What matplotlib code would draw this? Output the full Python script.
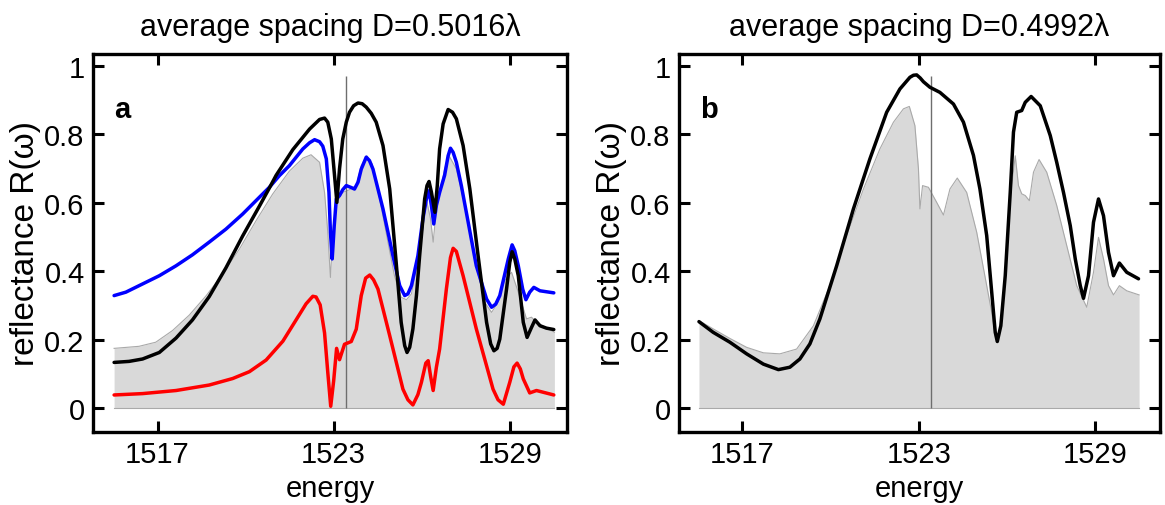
import matplotlib
matplotlib.use("Agg")
import matplotlib.pyplot as plt

plt.rcParams["font.family"] = ["Liberation Sans", "DejaVu Sans"]

# -------------------------
# Data
# -------------------------

# panel a: grey filled reference curve
a_grey_e = [1515.52, 1516.37, 1516.94, 1517.51, 1518.08, 1518.65, 1519.22, 1519.79,
            1520.36, 1520.92, 1521.49, 1521.95, 1522.23, 1522.52, 1522.69, 1522.80,
            1522.89, 1522.99, 1523.11, 1523.31, 1523.54, 1523.77, 1523.94, 1524.13,
            1524.31, 1524.57, 1524.85, 1525.07, 1525.30, 1525.48, 1525.65, 1525.82,
            1525.99, 1526.18, 1526.30, 1526.39, 1526.50, 1526.67, 1526.78, 1526.93,
            1527.18, 1527.52, 1527.86, 1528.15, 1528.38, 1528.60, 1528.83, 1529.06,
            1529.29, 1529.57, 1529.74, 1529.91, 1530.52]
a_grey_r = [0.175, 0.181, 0.193, 0.227, 0.272, 0.328, 0.392, 0.465,
            0.548, 0.625, 0.692, 0.730, 0.740, 0.718, 0.630, 0.514,
            0.382, 0.533, 0.601, 0.630, 0.638, 0.650, 0.708, 0.737,
            0.713, 0.611, 0.485, 0.387, 0.324, 0.317, 0.334, 0.407,
            0.533, 0.601, 0.553, 0.485, 0.582, 0.650, 0.699, 0.737,
            0.699, 0.572, 0.416, 0.309, 0.280, 0.309, 0.373, 0.397,
            0.339, 0.261, 0.266, 0.251, 0.222]

# panel a: black curve
a_black_e = [1515.52, 1516.03, 1516.49, 1517.06, 1517.63, 1518.19, 1518.76, 1519.33,
             1519.90, 1520.47, 1520.81, 1521.04, 1521.61, 1522.18, 1522.52, 1522.69,
             1522.80, 1522.92, 1523.01, 1523.11, 1523.20, 1523.31, 1523.43, 1523.54,
             1523.68, 1523.83, 1523.97, 1524.11, 1524.28, 1524.45, 1524.68, 1524.91,
             1525.13, 1525.30, 1525.42, 1525.50, 1525.59, 1525.70, 1525.82, 1525.93,
             1526.10, 1526.18, 1526.25, 1526.33, 1526.45, 1526.53, 1526.61, 1526.73,
             1526.90, 1527.05, 1527.18, 1527.41, 1527.64, 1527.92, 1528.21, 1528.35,
             1528.46, 1528.57, 1528.66, 1528.89, 1529.00, 1529.08, 1529.17, 1529.29,
             1529.46, 1529.59, 1529.74, 1529.86, 1530.03, 1530.25, 1530.50]
a_black_r = [0.134, 0.137, 0.144, 0.163, 0.205, 0.258, 0.326, 0.410,
             0.503, 0.590, 0.643, 0.680, 0.755, 0.815, 0.843, 0.847,
             0.835, 0.786, 0.699, 0.601, 0.699, 0.786, 0.835, 0.864,
             0.883, 0.891, 0.889, 0.879, 0.861, 0.835, 0.767, 0.640,
             0.426, 0.251, 0.183, 0.163, 0.178, 0.232, 0.329, 0.446,
             0.611, 0.650, 0.662, 0.631, 0.572, 0.650, 0.757, 0.830,
             0.872, 0.864, 0.845, 0.767, 0.640, 0.446, 0.251, 0.188,
             0.168, 0.175, 0.202, 0.348, 0.426, 0.457, 0.436, 0.387,
             0.251, 0.207, 0.236, 0.258, 0.241, 0.234, 0.230]

# panel a: blue curve
a_blue_e = [1515.52, 1515.92, 1516.49, 1517.06, 1517.63, 1518.19, 1518.76, 1519.33,
            1519.90, 1520.47, 1520.81, 1521.15, 1521.49, 1521.95, 1522.18, 1522.35,
            1522.52, 1522.63, 1522.75, 1522.84, 1522.89, 1522.95, 1523.02, 1523.09,
            1523.20, 1523.31, 1523.43, 1523.58, 1523.71, 1523.83, 1523.94, 1524.11,
            1524.22, 1524.34, 1524.51, 1524.68, 1524.85, 1525.02, 1525.25, 1525.42,
            1525.53, 1525.65, 1525.87, 1526.04, 1526.16, 1526.25, 1526.33, 1526.41,
            1526.50, 1526.61, 1526.78, 1526.90, 1526.98, 1527.07, 1527.18, 1527.35,
            1527.52, 1527.86, 1528.21, 1528.38, 1528.52, 1528.66, 1528.95, 1529.08,
            1529.17, 1529.29, 1529.44, 1529.55, 1529.68, 1529.82, 1530.03, 1530.50]
a_blue_r = [0.329, 0.339, 0.363, 0.387, 0.416, 0.448, 0.485, 0.523,
            0.567, 0.616, 0.645, 0.679, 0.708, 0.757, 0.775, 0.784,
            0.778, 0.765, 0.728, 0.630, 0.514, 0.436, 0.533, 0.611,
            0.621, 0.638, 0.650, 0.645, 0.640, 0.660, 0.698, 0.733,
            0.723, 0.698, 0.640, 0.582, 0.514, 0.445, 0.358, 0.329,
            0.334, 0.358, 0.445, 0.553, 0.611, 0.635, 0.592, 0.538,
            0.592, 0.630, 0.680, 0.737, 0.759, 0.747, 0.718, 0.650,
            0.572, 0.416, 0.319, 0.295, 0.304, 0.329, 0.436, 0.477,
            0.460, 0.416, 0.348, 0.317, 0.339, 0.353, 0.343, 0.337]

# panel a: red curve
a_red_e = [1515.52, 1516.49, 1517.63, 1518.76, 1519.56, 1520.13, 1520.70, 1521.27,
           1521.72, 1522.06, 1522.29, 1522.40, 1522.54, 1522.69, 1522.80, 1522.90,
           1523.00, 1523.10, 1523.20, 1523.37, 1523.60, 1523.77, 1523.94, 1524.09,
           1524.23, 1524.36, 1524.51, 1524.91, 1525.36, 1525.53, 1525.70, 1525.87,
           1525.99, 1526.14, 1526.22, 1526.30, 1526.39, 1526.50, 1526.61, 1526.84,
           1526.98, 1527.07, 1527.18, 1527.41, 1527.86, 1528.43, 1528.60, 1528.78,
           1529.00, 1529.14, 1529.25, 1529.36, 1529.46, 1529.68, 1529.91, 1530.50]
a_red_r = [0.039, 0.043, 0.052, 0.068, 0.087, 0.107, 0.141, 0.196,
           0.258, 0.305, 0.327, 0.325, 0.302, 0.220, 0.105, 0.006,
           0.080, 0.175, 0.142, 0.187, 0.195, 0.231, 0.329, 0.380,
           0.389, 0.375, 0.348, 0.212, 0.056, 0.025, 0.010, 0.040,
           0.076, 0.132, 0.139, 0.095, 0.052, 0.120, 0.173, 0.348,
           0.440, 0.467, 0.458, 0.387, 0.232, 0.056, 0.025, 0.012,
           0.076, 0.121, 0.132, 0.115, 0.086, 0.045, 0.052, 0.039]

# panel b: grey filled reference curve
b_grey_e = [1515.53, 1516.01, 1516.58, 1517.15, 1517.72, 1518.28, 1518.85, 1519.42,
            1519.98, 1520.55, 1521.12, 1521.68, 1522.14, 1522.48, 1522.68, 1522.87,
            1522.99, 1523.04, 1523.13, 1523.33, 1523.61, 1523.84, 1524.06, 1524.31,
            1524.63, 1524.97, 1525.31, 1525.48, 1525.60, 1525.67, 1525.79, 1525.94,
            1526.11, 1526.28, 1526.39, 1526.50, 1526.62, 1526.76, 1526.90, 1527.09,
            1527.35, 1527.69, 1528.03, 1528.37, 1528.71, 1528.94, 1529.11, 1529.28,
            1529.45, 1529.62, 1529.82, 1530.07, 1530.49]
b_grey_r = [0.256, 0.232, 0.204, 0.178, 0.162, 0.159, 0.173, 0.241,
            0.358, 0.504, 0.640, 0.757, 0.835, 0.874, 0.881, 0.825,
            0.699, 0.582, 0.650, 0.645, 0.601, 0.564, 0.640, 0.672,
            0.630, 0.514, 0.358, 0.280, 0.212, 0.193, 0.241, 0.377,
            0.611, 0.737, 0.650, 0.626, 0.621, 0.606, 0.689, 0.726,
            0.689, 0.592, 0.475, 0.358, 0.295, 0.397, 0.499, 0.436,
            0.358, 0.331, 0.358, 0.343, 0.331]

# panel b: black curve
b_black_e = [1515.53, 1516.01, 1516.58, 1517.15, 1517.72, 1518.23, 1518.62, 1518.96,
             1519.30, 1519.64, 1520.21, 1520.78, 1521.34, 1521.91, 1522.36, 1522.70,
             1522.82, 1522.93, 1523.05, 1523.16, 1523.38, 1523.72, 1524.18, 1524.52,
             1524.86, 1525.08, 1525.31, 1525.48, 1525.60, 1525.67, 1525.79, 1525.94,
             1526.11, 1526.22, 1526.33, 1526.50, 1526.62, 1526.82, 1527.13, 1527.47,
             1527.69, 1527.92, 1528.15, 1528.32, 1528.49, 1528.60, 1528.77, 1528.94,
             1529.11, 1529.28, 1529.45, 1529.62, 1529.82, 1530.07, 1530.47]
b_black_r = [0.253, 0.222, 0.193, 0.159, 0.129, 0.113, 0.120, 0.144,
             0.188, 0.261, 0.416, 0.582, 0.728, 0.864, 0.932, 0.966,
             0.972, 0.973, 0.964, 0.953, 0.937, 0.922, 0.888, 0.835,
             0.738, 0.640, 0.504, 0.339, 0.222, 0.195, 0.241, 0.387,
             0.630, 0.806, 0.864, 0.869, 0.893, 0.910, 0.883, 0.796,
             0.718, 0.630, 0.533, 0.436, 0.358, 0.321, 0.387, 0.543,
             0.611, 0.562, 0.455, 0.387, 0.424, 0.397, 0.378]

# vertical marker lines and labels
marker_energy = [1523.42, 1523.41]
marker_top = 0.97
panel_titles = ["average spacing D=0.5016\u03bb", "average spacing D=0.4992\u03bb"]
panel_letters = ["a", "b"]
x_ticks = [1517, 1523, 1529]
y_ticks = [0, 0.2, 0.4, 0.6, 0.8, 1]
y_tick_labels = ["0", "0.2", "0.4", "0.6", "0.8", "1"]

# -------------------------
# Figure
# -------------------------

fig = plt.figure(figsize=(11.65, 5.06), dpi=100)
ax_a = fig.add_axes([0.0798, 0.1443, 0.4069, 0.747])
ax_b = fig.add_axes([0.5828, 0.1443, 0.4129, 0.747])

grey_fill = "#d9d9d9"
grey_edge = "#a9a9a9"
line_kw = dict(lw=2.5, solid_joinstyle="round", solid_capstyle="round")

# panel a
ax_a.fill_between(a_grey_e, 0, a_grey_r, color=grey_fill, lw=0)
ax_a.plot(a_grey_e, a_grey_r, color=grey_edge, lw=0.8)
ax_a.plot([a_grey_e[0], a_grey_e[-1]], [0, 0], color=grey_edge, lw=0.8)
ax_a.vlines(marker_energy[0], 0, marker_top, color="#6e6e6e", lw=1.0)
ax_a.plot(a_red_e, a_red_r, color="#ff0000", **line_kw)
ax_a.plot(a_blue_e, a_blue_r, color="#0000ff", **line_kw)
ax_a.plot(a_black_e, a_black_r, color="black", **line_kw)
ax_a.set_xlim(1514.8, 1530.95)

# panel b
ax_b.fill_between(b_grey_e, 0, b_grey_r, color=grey_fill, lw=0)
ax_b.plot(b_grey_e, b_grey_r, color=grey_edge, lw=0.8)
ax_b.plot([b_grey_e[0], b_grey_e[-1]], [0, 0], color=grey_edge, lw=0.8)
ax_b.vlines(marker_energy[1], 0, marker_top, color="#6e6e6e", lw=1.0)
ax_b.plot(b_black_e, b_black_r, color="black", **line_kw)
ax_b.set_xlim(1514.85, 1531.2)

for ax, title, letter in zip([ax_a, ax_b], panel_titles, panel_letters):
    ax.set_ylim(-0.069, 1.034)
    ax.set_xticks(x_ticks)
    ax.set_yticks(y_ticks)
    ax.set_yticklabels(y_tick_labels)
    ax.tick_params(direction="in", length=8, width=2.2, labelsize=21,
                   top=True, right=True, pad=6)
    for sp in ax.spines.values():
        sp.set_linewidth(2.4)
    ax.set_xlabel("energy", fontsize=21, labelpad=4)
    ax.set_ylabel("reflectance R(\u03c9)", fontsize=24, labelpad=2)
    ax.set_title(title, fontsize=22, pad=14)
    ax.text(0.045, 0.855, letter, transform=ax.transAxes, fontsize=21,
            fontweight="bold", va="center", ha="left")

plt.savefig("out.png", dpi=100)
plt.close()
